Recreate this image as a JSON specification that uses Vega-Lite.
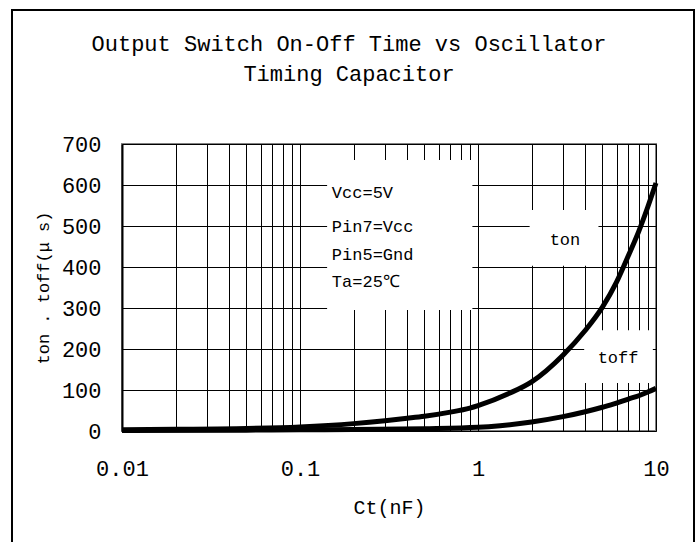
{
  "$schema": "https://vega.github.io/schema/vega-lite/v6.json",
  "width": 534,
  "height": 287,
  "padding": {"left": 10, "top": 8, "right": 0, "bottom": 0},
  "background": "white",
  "title": {
    "text": ["Output Switch On-Off Time vs Oscillator", "Timing Capacitor"],
    "frame": "group",
    "anchor": "middle",
    "dx": -40,
    "offset": -77,
    "font": "Liberation Mono",
    "fontSize": 22,
    "fontWeight": "normal",
    "color": "black",
    "lineHeight": 30
  },
  "config": {
    "view": {"stroke": "#808080", "strokeWidth": 2},
    "font": "Liberation Mono",
    "axis": {
      "labelFont": "Liberation Mono",
      "labelFontSize": 22,
      "labelColor": "black",
      "ticks": false,
      "grid": true,
      "gridColor": "black",
      "gridWidth": 1,
      "gridOpacity": 1,
      "titleFont": "Liberation Mono",
      "titleFontWeight": "normal",
      "titleColor": "black"
    },
    "axisX": {
      "labelPadding": 27,
      "labelOverlap": false,
      "labelFlush": false,
      "domain": false,
      "titleFontSize": 20,
      "titlePadding": 18
    },
    "axisY": {
      "labelPadding": 21,
      "domain": true,
      "domainColor": "black",
      "domainWidth": 2,
      "titleFontSize": 17,
      "titlePadding": 9
    }
  },
  "datasets": {
    "curves": [
      {"Ct": 0.01, "t": 3, "series": "ton"},
      {"Ct": 0.02, "t": 4, "series": "ton"},
      {"Ct": 0.05, "t": 6, "series": "ton"},
      {"Ct": 0.1, "t": 10, "series": "ton"},
      {"Ct": 0.2, "t": 18, "series": "ton"},
      {"Ct": 0.3, "t": 25, "series": "ton"},
      {"Ct": 0.4, "t": 31, "series": "ton"},
      {"Ct": 0.5, "t": 36, "series": "ton"},
      {"Ct": 0.7, "t": 46, "series": "ton"},
      {"Ct": 0.9, "t": 56, "series": "ton"},
      {"Ct": 1, "t": 62, "series": "ton"},
      {"Ct": 1.5, "t": 92, "series": "ton"},
      {"Ct": 2, "t": 120, "series": "ton"},
      {"Ct": 3, "t": 185, "series": "ton"},
      {"Ct": 4, "t": 245, "series": "ton"},
      {"Ct": 5, "t": 302, "series": "ton"},
      {"Ct": 6, "t": 363, "series": "ton"},
      {"Ct": 7, "t": 428, "series": "ton"},
      {"Ct": 8, "t": 487, "series": "ton"},
      {"Ct": 9, "t": 547, "series": "ton"},
      {"Ct": 10, "t": 605, "series": "ton"},
      {"Ct": 0.01, "t": 1, "series": "toff"},
      {"Ct": 0.05, "t": 2, "series": "toff"},
      {"Ct": 0.1, "t": 3, "series": "toff"},
      {"Ct": 0.2, "t": 3.5, "series": "toff"},
      {"Ct": 0.5, "t": 5.5, "series": "toff"},
      {"Ct": 1, "t": 9, "series": "toff"},
      {"Ct": 1.33, "t": 13, "series": "toff"},
      {"Ct": 2, "t": 22, "series": "toff"},
      {"Ct": 3, "t": 35, "series": "toff"},
      {"Ct": 4, "t": 47, "series": "toff"},
      {"Ct": 5, "t": 58, "series": "toff"},
      {"Ct": 6, "t": 68, "series": "toff"},
      {"Ct": 7, "t": 78, "series": "toff"},
      {"Ct": 8, "t": 86, "series": "toff"},
      {"Ct": 9, "t": 95, "series": "toff"},
      {"Ct": 10, "t": 104, "series": "toff"}
    ],
    "boxes": [
      {"x0": 0.142, "x1": 0.93, "y0": 295, "y1": 661},
      {"x0": 1.95, "x1": 4.75, "y0": 403, "y1": 539},
      {"x0": 3.95, "x1": 9.6, "y0": 117, "y1": 246}
    ],
    "notes": [
      {"label": "Vcc=5V", "x": 0.151, "y": 580},
      {"label": "Pin7=Vcc", "x": 0.151, "y": 498},
      {"label": "Pin5=Gnd", "x": 0.151, "y": 429},
      {"label": "Ta=25℃", "x": 0.151, "y": 363}
    ],
    "tags": [
      {"label": "ton", "x": 3.08, "y": 466},
      {"label": "toff", "x": 6.12, "y": 178}
    ]
  },
  "layer": [
    {
      "data": {"name": "curves"},
      "mark": {"type": "line", "color": "black", "strokeWidth": 5, "interpolate": "monotone", "opacity": 0},
      "encoding": {
        "x": {
          "field": "Ct",
          "type": "quantitative",
          "title": "Ct(nF)",
          "scale": {"type": "log", "domain": [0.01, 10], "nice": false},
          "axis": {
            "values": [0.01, 0.02, 0.03, 0.04, 0.05, 0.06, 0.07, 0.08, 0.09, 0.1, 0.2, 0.3, 0.4, 0.5, 0.6, 0.7, 0.8, 0.9, 1, 2, 3, 4, 5, 6, 7, 8, 9, 10],
            "labelExpr": "datum.value == 0.01 ? '0.01' : datum.value == 0.1 ? '0.1' : datum.value == 1 ? '1' : datum.value == 10 ? '10' : ''"
          }
        },
        "y": {
          "field": "t",
          "type": "quantitative",
          "title": "ton . toff(μ s)",
          "scale": {"domain": [0, 700], "nice": false},
          "axis": {"values": [0, 100, 200, 300, 400, 500, 600, 700]}
        },
        "detail": {"field": "series"}
      }
    },
    {
      "data": {"values": [{}]},
      "mark": {"type": "rect", "filled": false, "stroke": "black", "strokeWidth": 2, "clip": false},
      "encoding": {
        "x": {"datum": 0.00241, "type": "quantitative", "title": "Ct(nF)", "scale": {"type": "log", "domain": [0.01, 10], "nice": false}},
        "x2": {"datum": 16.35},
        "y": {"datum": 1027, "type": "quantitative", "title": "ton . toff(μ s)", "scale": {"domain": [0, 700], "nice": false}},
        "y2": {"datum": -300}
      }
    },
    {
      "data": {"name": "boxes"},
      "mark": {"type": "rect", "fill": "white", "stroke": null},
      "encoding": {
        "x": {"field": "x0", "type": "quantitative", "title": "Ct(nF)", "scale": {"type": "log", "domain": [0.01, 10], "nice": false}},
        "x2": {"field": "x1"},
        "y": {"field": "y0", "type": "quantitative", "title": "ton . toff(μ s)", "scale": {"domain": [0, 700], "nice": false}},
        "y2": {"field": "y1"}
      }
    },
    {
      "data": {"name": "curves"},
      "mark": {"type": "line", "color": "black", "strokeWidth": 5, "interpolate": "monotone"},
      "encoding": {
        "x": {"field": "Ct", "type": "quantitative", "title": "Ct(nF)", "scale": {"type": "log", "domain": [0.01, 10], "nice": false}},
        "y": {"field": "t", "type": "quantitative", "title": "ton . toff(μ s)", "scale": {"domain": [0, 700], "nice": false}},
        "detail": {"field": "series"}
      }
    },
    {
      "data": {"name": "notes"},
      "mark": {"type": "text", "align": "left", "baseline": "middle", "font": "Liberation Mono", "fontSize": 17, "color": "black"},
      "encoding": {
        "x": {"field": "x", "type": "quantitative", "title": "Ct(nF)", "scale": {"type": "log", "domain": [0.01, 10], "nice": false}},
        "y": {"field": "y", "type": "quantitative", "title": "ton . toff(μ s)", "scale": {"domain": [0, 700], "nice": false}},
        "text": {"field": "label"}
      }
    },
    {
      "data": {"name": "tags"},
      "mark": {"type": "text", "align": "center", "baseline": "middle", "font": "Liberation Mono", "fontSize": 17, "color": "black"},
      "encoding": {
        "x": {"field": "x", "type": "quantitative", "title": "Ct(nF)", "scale": {"type": "log", "domain": [0.01, 10], "nice": false}},
        "y": {"field": "y", "type": "quantitative", "title": "ton . toff(μ s)", "scale": {"domain": [0, 700], "nice": false}},
        "text": {"field": "label"}
      }
    }
  ]
}
